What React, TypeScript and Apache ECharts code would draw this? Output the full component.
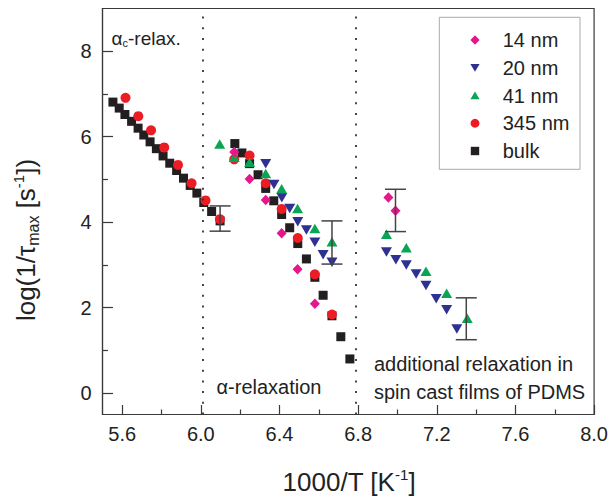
import React, { useEffect, useRef } from "react";
import * as echarts from "echarts";

const FONT = "'Liberation Sans', Arial, Helvetica, sans-serif";

const seriesNames = ["14 nm", "20 nm", "41 nm", "345 nm", "bulk"];
const seriesColors = ["#e6168c", "#2e3192", "#0aa554", "#ec1c24", "#231f20"];

const nm14Data = [
  [6.17, 5.64], [6.248, 5.01], [6.33, 4.52], [6.411, 3.74], [6.492, 2.9], [6.58, 2.09],
  [6.954, 4.58], [6.99, 4.27],
];
const nm20Data = [
  [6.33, 5.37], [6.372, 4.88], [6.412, 4.57], [6.452, 4.32], [6.493, 4.01], [6.537, 3.82],
  [6.58, 3.53], [6.622, 3.24], [6.667, 3.06],
  [6.944, 3.3], [6.992, 3.12], [7.045, 3.0], [7.095, 2.79], [7.145, 2.52], [7.197, 2.21],
  [7.25, 1.95], [7.302, 1.5],
];
const nm41Data = [
  [6.096, 5.83], [6.17, 5.52], [6.248, 5.4], [6.33, 5.14], [6.411, 4.78], [6.492, 4.32],
  [6.58, 3.85], [6.667, 3.54],
  [6.944, 3.72], [7.045, 3.4], [7.145, 2.85], [7.25, 2.34], [7.355, 1.75],
];
const nm345Data = [
  [5.617, 6.91], [5.682, 6.48], [5.747, 6.15], [5.814, 5.75], [5.884, 5.34], [5.953, 4.91],
  [6.024, 4.51], [6.097, 4.07],
  [6.17, 5.47], [6.248, 5.56], [6.33, 4.91], [6.411, 4.31], [6.493, 3.63], [6.58, 2.78],
  [6.667, 1.84],
];
const bulkData = [
  [5.553, 6.81], [5.585, 6.67], [5.614, 6.52], [5.648, 6.36], [5.681, 6.2], [5.71, 6.04],
  [5.742, 5.88], [5.774, 5.72], [5.808, 5.55], [5.842, 5.38], [5.877, 5.21], [5.912, 5.03],
  [5.946, 4.86], [5.98, 4.68], [6.015, 4.46], [6.055, 4.25], [6.098, 4.03],
  [6.173, 5.84], [6.209, 5.62], [6.248, 5.37], [6.291, 5.11], [6.33, 4.79], [6.371, 4.5],
  [6.411, 4.18], [6.452, 3.87], [6.493, 3.5], [6.537, 3.14], [6.58, 2.71], [6.622, 2.29],
  [6.667, 1.81], [6.712, 1.32], [6.758, 0.8],
];
// [x, upper, lower]
const errorBars = [
  [6.098, 4.38, 3.79],
  [6.667, 4.03, 3.02],
  [6.99, 4.77, 3.78],
  [7.35, 2.23, 1.25],
];
const regionBounds = [6.012, 6.785];

const xRange = [5.5, 8.0];
const yRange = [-0.5, 9];
const xMajorTicks = [5.6, 6.0, 6.4, 6.8, 7.2, 7.6, 8.0];
const xMinorTicks = [5.8, 6.2, 6.6, 7.0, 7.4, 7.8];
const yMajorTicks = [0, 2, 4, 6, 8];
const yMinorTicks = [1, 3, 5, 7];

const AXIS_COLOR = "#3a3a3a";
const TEXT_COLOR = "#222";

// legend icon outlines (unit shapes, centred on 0,0), one per series
const legendIconShapes: Record<string, number[][] | string> = {
  "14 nm": [[0, -4.8], [4.6, 0], [0, 4.8], [-4.6, 0]],
  "20 nm": [[-4.6, -3.8], [4.6, -3.8], [0, 4.1]],
  "41 nm": [[-4.6, 3.8], [4.6, 3.8], [0, -4.1]],
  "345 nm": "circle",
  bulk: "rect",
};

export default function App() {
  const ref = useRef<HTMLDivElement>(null);

  useEffect(() => {
    if (!ref.current) return;
    const chart = echarts.init(ref.current, null, { renderer: "svg" });

    const markerSeries = (
      name: string,
      data: number[][],
      symbol: string,
      size: number | number[],
      rotate = 0
    ) => {
      const idx = seriesNames.indexOf(name);
      return {
        type: "scatter",
        name,
        data,
        symbol,
        symbolSize: size,
        symbolRotate: rotate,
        itemStyle: { color: seriesColors[idx], opacity: 1 },
        emphasis: { disabled: true },
        z: 3,
      };
    };

    const bulk: any = markerSeries("bulk", bulkData, "rect", 9);
    bulk.markLine = {
      silent: true,
      symbol: "none",
      label: { show: false },
      lineStyle: { type: [2, 8.7], color: "#333", width: 1.8 },
      data: regionBounds.map((v) => ({ xAxis: v })),
    };

    const sub = (size: number, fill = TEXT_COLOR) => ({
      fontSize: size,
      fontFamily: FONT,
      fill,
    });

    // legend drawn as a framed box
    const legendLeft = 439.3;
    const legendTop = 17.3;
    const legendW = 140.7;
    const legendH = 152;
    const legendIconX = 475;
    const legendTextX = 502.7;
    const legendFirstY = 40;
    const legendStep = 27.75;

    const legendChildren: any[] = [
      {
        type: "rect",
        shape: { x: legendLeft, y: legendTop, width: legendW, height: legendH },
        style: { fill: "#fff", stroke: "#aaa", lineWidth: 1 },
        z: 10,
      },
    ];
    seriesNames.forEach((name, i) => {
      const cy = legendFirstY + i * legendStep;
      const color = seriesColors[i];
      const shape = legendIconShapes[name];
      if (shape === "circle") {
        legendChildren.push({
          type: "circle",
          shape: { cx: legendIconX, cy, r: 4.4 },
          style: { fill: color },
          z: 11,
        });
      } else if (shape === "rect") {
        legendChildren.push({
          type: "rect",
          shape: { x: legendIconX - 4.2, y: cy - 4.2, width: 8.4, height: 8.4 },
          style: { fill: color },
          z: 11,
        });
      } else {
        legendChildren.push({
          type: "polygon",
          shape: { points: (shape as number[][]).map(([dx, dy]) => [legendIconX + dx, cy + dy]) },
          style: { fill: color },
          z: 11,
        });
      }
      legendChildren.push({
        type: "text",
        x: legendTextX,
        y: cy,
        style: {
          text: name,
          align: "left",
          verticalAlign: "middle",
          fill: TEXT_COLOR,
          fontFamily: FONT,
          fontSize: 20,
        },
        z: 11,
      });
    });

    const option: any = {
      animation: false,
      backgroundColor: "#fff",
      grid: {
        left: 102.5,
        right: 14.5,
        top: 8.5,
        bottom: 84.5,
        show: true,
        borderColor: AXIS_COLOR,
        borderWidth: 1.2,
        containLabel: false,
      },
      xAxis: [
        {
          type: "value",
          min: xRange[0],
          max: xRange[1],
          splitLine: { show: false },
          axisLine: { show: true, onZero: false, lineStyle: { color: AXIS_COLOR, width: 1.2 } },
          axisTick: {
            show: true,
            inside: true,
            length: 9.5,
            lineStyle: { color: AXIS_COLOR, width: 1.2 },
            customValues: xMajorTicks,
          },
          axisLabel: {
            show: true,
            margin: 9,
            fontSize: 20,
            fontFamily: FONT,
            color: TEXT_COLOR,
            customValues: xMajorTicks,
            formatter: (v: number) => v.toFixed(1),
          },
        },
        {
          type: "value",
          position: "bottom",
          min: xRange[0],
          max: xRange[1],
          splitLine: { show: false },
          axisLine: { show: false, onZero: false },
          axisLabel: { show: false },
          axisTick: {
            show: true,
            inside: true,
            length: 5,
            lineStyle: { color: AXIS_COLOR, width: 1.2 },
            customValues: xMinorTicks,
          },
        },
      ],
      yAxis: [
        {
          type: "value",
          min: yRange[0],
          max: yRange[1],
          splitLine: { show: false },
          axisLine: { show: true, onZero: false, lineStyle: { color: AXIS_COLOR, width: 1.2 } },
          axisTick: {
            show: true,
            inside: true,
            length: 10.5,
            lineStyle: { color: AXIS_COLOR, width: 1.2 },
            customValues: yMajorTicks,
          },
          axisLabel: {
            show: true,
            margin: 11,
            fontSize: 20,
            fontFamily: FONT,
            color: TEXT_COLOR,
            customValues: yMajorTicks,
            formatter: (v: number) => String(Math.round(v)),
          },
        },
        {
          type: "value",
          position: "left",
          min: yRange[0],
          max: yRange[1],
          splitLine: { show: false },
          axisLine: { show: false, onZero: false },
          axisLabel: { show: false },
          axisTick: {
            show: true,
            inside: true,
            length: 5.5,
            lineStyle: { color: AXIS_COLOR, width: 1.2 },
            customValues: yMinorTicks,
          },
        },
      ],
      legend: { show: false },
      series: [
        bulk,
        markerSeries("345 nm", nm345Data, "circle", 10),
        markerSeries("20 nm", nm20Data, "triangle", [11, 9.5], 180),
        markerSeries("41 nm", nm41Data, "triangle", [11, 9.5]),
        markerSeries("14 nm", nm14Data, "diamond", [10, 10.5]),
        {
          type: "custom",
          name: "errors",
          data: errorBars,
          encode: { x: 0, y: [1, 2] },
          z: 5,
          silent: true,
          renderItem: (params: any, api: any) => {
            const x = api.value(0);
            const top = api.coord([x, api.value(1)]);
            const bot = api.coord([x, api.value(2)]);
            const hw = 10.5;
            const style = { stroke: "#444", lineWidth: 1.5 };
            return {
              type: "group",
              children: [
                { type: "line", shape: { x1: top[0], y1: top[1], x2: bot[0], y2: bot[1] }, style },
                { type: "line", shape: { x1: top[0] - hw, y1: top[1], x2: top[0] + hw, y2: top[1] }, style },
                { type: "line", shape: { x1: bot[0] - hw, y1: bot[1], x2: bot[0] + hw, y2: bot[1] }, style },
              ],
            };
          },
        },
      ],
      graphic: [
        { type: "group", children: legendChildren },
        {
          type: "text",
          x: 349,
          y: 482,
          style: {
            text: "{n|1000/T [K}{sup|-1}{n|]}",
            align: "center",
            verticalAlign: "middle",
            fill: TEXT_COLOR,
            fontFamily: FONT,
            fontSize: 26,
            rich: {
              n: sub(26),
              sup: { ...sub(15), padding: [0, 0, 16, 0] },
            },
          },
        },
        {
          type: "text",
          x: 26,
          y: 240,
          rotation: Math.PI / 2,
          style: {
            text: "{n|log(1/τ}{sb|max}{n| [s}{sup|-1}{n|])}",
            align: "center",
            verticalAlign: "middle",
            fill: TEXT_COLOR,
            fontFamily: FONT,
            fontSize: 26,
            rich: {
              n: sub(26),
              sb: { ...sub(16), padding: [14, 0, 0, 0] },
              sup: { ...sub(15), padding: [0, 0, 16, 0] },
            },
          },
        },
        {
          type: "text",
          x: 111.5,
          y: 38,
          style: {
            text: "{n|α}{sb|c}{n|-relax.}",
            align: "left",
            verticalAlign: "middle",
            fill: TEXT_COLOR,
            fontFamily: FONT,
            fontSize: 19,
            rich: {
              n: sub(19),
              sb: { ...sub(11), padding: [10, 0, 0, 0] },
            },
          },
        },
        {
          type: "text",
          x: 216.5,
          y: 387,
          style: {
            text: "α-relaxation",
            align: "left",
            verticalAlign: "middle",
            fill: TEXT_COLOR,
            fontFamily: FONT,
            fontSize: 20,
          },
        },
        {
          type: "text",
          x: 374,
          y: 363.5,
          style: {
            text: "additional relaxation in",
            align: "left",
            verticalAlign: "middle",
            fill: TEXT_COLOR,
            fontFamily: FONT,
            fontSize: 20,
          },
        },
        {
          type: "text",
          x: 374,
          y: 392,
          style: {
            text: "spin cast films of PDMS",
            align: "left",
            verticalAlign: "middle",
            fill: TEXT_COLOR,
            fontFamily: FONT,
            fontSize: 20,
          },
        },
      ],
    };

    chart.setOption(option);
    return () => chart.dispose();
  }, []);

  return (
    <div
      ref={ref}
      style={{ position: "fixed", left: 0, top: 0, width: 611, height: 499, background: "#fff" }}
    />
  );
}
